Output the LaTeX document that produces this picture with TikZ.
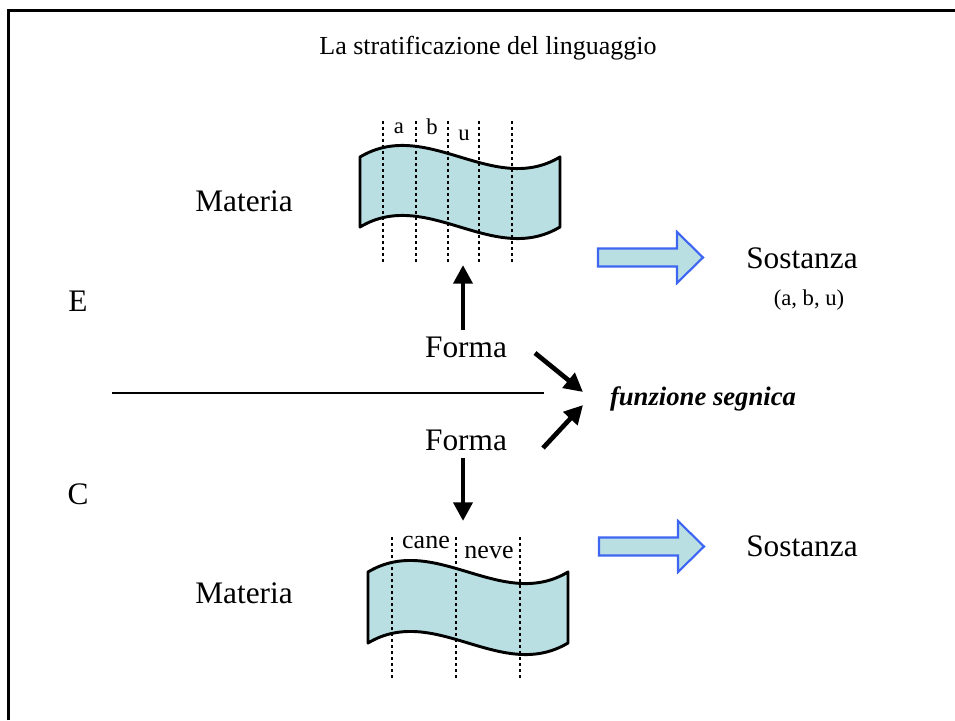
\documentclass[tikz,border=0pt]{standalone}
\usepackage{fontspec}
\setmainfont{Liberation Serif}
\usetikzlibrary{arrows.meta}
\definecolor{bannerfill}{HTML}{B9DFE3}
\definecolor{arrowedge}{HTML}{3F66F2}
\tikzset{
  banner/.style={draw=black, fill=bannerfill, line width=2.2pt, line join=round},
  dotline/.style={line width=1.9pt, dash pattern=on 1.9pt off 2.6pt},
  blockarrow/.style={draw=arrowedge, fill=bannerfill, line width=1.6pt, line join=miter},
  arr/.style={line width=3.5pt, -{Triangle[width=14pt,length=14pt]}},
  big/.style={font=\fontsize{23.5}{26}\selectfont, anchor=base, inner sep=0pt},
  lab/.style={font=\fontsize{17}{19}\selectfont, anchor=base, inner sep=0pt},
  mid/.style={font=\fontsize{19.5}{22}\selectfont, anchor=base, inner sep=0pt},
}
\begin{document}
\begin{tikzpicture}[x=0.75pt,y=-0.75pt]
\useasboundingbox (0,0) rectangle (955,720);
% frame
\draw[line width=1.6pt] (8.5,720) -- (8.5,10.5) -- (955,10.5);
% title
\node[font=\fontsize{19.5}{22}\selectfont, anchor=base, inner sep=0pt] (title) at (488,55) {La stratificazione del linguaggio};
% upper banner
\draw[banner] (360,157) .. controls (427,117) and (493,197) .. (560,157) -- (560,227) .. controls (493,267) and (427,187) .. (360,227) -- cycle;
\foreach \x in {383,416,448,479,512} \draw[dotline] (\x,121) -- (\x,263);
\node[lab] (la) at (399,134) {a};
\node[lab] (lb) at (432,135) {b};
\node[lab] (lu) at (464,141) {u};
% lower banner
\draw[banner] (368,572) .. controls (435,532) and (501,612) .. (568,572) -- (568,643) .. controls (501,683) and (435,603) .. (368,643) -- cycle;
\foreach \x in {392,456,520} \draw[dotline] (\x,537) -- (\x,679);
\node[mid] (cane) at (426,548) {cane};
\node[mid] (neve) at (489,558) {neve};
% block arrows
\draw[blockarrow] (598,248.5) -- (677,248.5) -- (677,232) -- (703,257.5) -- (677,283) -- (677,266.5) -- (598,266.5) -- cycle;
\draw[blockarrow] (599,537.5) -- (678,537.5) -- (678,521) -- (704,546.5) -- (678,572) -- (678,555.5) -- (599,555.5) -- cycle;
% texts
\node[big] (matU) at (244,212) {Materia};
\node[big] (matL) at (244,603) {Materia};
\node[big] (sosU) at (802,268) {Sostanza};
\node[font=\fontsize{17}{20}\selectfont, anchor=base, inner sep=0pt] (abu) at (809,305) {(a, b, u)};
\node[big] (sosL) at (802,556) {Sostanza};
\node[big] (E) at (78,311) {E};
\node[big] (C) at (78,504) {C};
\node[big] (formaU) at (466,357) {Forma};
\node[big] (formaL) at (466,450) {Forma};
\node[font=\fontsize{20}{23}\selectfont\bfseries\itshape, anchor=base, inner sep=0pt] (fs) at (703,405) {funzione segnica};
% divider
\coordinate (hl1) at (112,393);
\coordinate (hl2) at (544,393);
\draw[line width=2.2pt] (hl1) -- (hl2);
% arrows
\coordinate (u1) at (463,330);
\coordinate (u2) at (463,265);
\draw[arr] (u1) -- (u2);
\coordinate (d1) at (463,458);
\coordinate (d2) at (463,521);
\draw[arr] (d1) -- (d2);
\coordinate (a1) at (535,353);
\coordinate (a2) at (583,392);
\draw[arr] (a1) -- (a2);
\coordinate (b1) at (543,448);
\coordinate (b2) at (583,405);
\draw[arr] (b1) -- (b2);
\end{tikzpicture}
\end{document}
